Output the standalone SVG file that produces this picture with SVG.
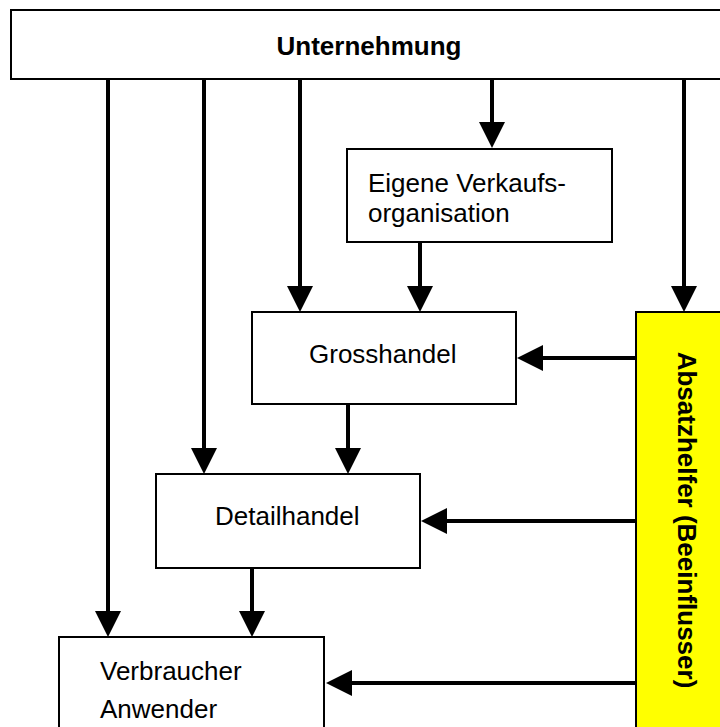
<svg xmlns="http://www.w3.org/2000/svg" width="720" height="727" viewBox="0 0 720 727">
  <style>
    .box { fill: #ffffff; stroke: #000000; stroke-width: 2; }
    .helper { fill: #ffff00; stroke: #000000; stroke-width: 2; }
    .label { font-family: "Liberation Sans", Arial, sans-serif; font-size: 26px; fill: #000000; }
    .bold { font-weight: bold; }
    .link { fill: none; stroke: #000000; stroke-width: 4; marker-end: url(#head); }
  </style>
  <defs>
    <marker id="head" markerUnits="userSpaceOnUse" markerWidth="28" markerHeight="28" viewBox="0 -14 26 28" refX="1" refY="0" orient="auto">
      <path d="M0,-13 L26,0 L0,13 Z" fill="#000000"/>
    </marker>
  </defs>
  <rect width="720" height="727" fill="#ffffff"/>

  <!-- connectors: each path stops at the base of its arrowhead -->
  <g id="connectors">
    <path class="link" d="M108,79 V612"/>
    <path class="link" d="M204,79 V449"/>
    <path class="link" d="M300,79 V287"/>
    <path class="link" d="M492,79 V123"/>
    <path class="link" d="M684,79 V287"/>
    <path class="link" d="M420,242 V287"/>
    <path class="link" d="M348,404 V449"/>
    <path class="link" d="M252,568 V612"/>
    <path class="link" d="M636,358 H542"/>
    <path class="link" d="M636,521 H446"/>
    <path class="link" d="M636,683 H351"/>
  </g>

  <g id="unternehmung">
    <rect class="box" x="11" y="10" width="720" height="69"/>
    <text class="label bold" x="369" y="55" font-size="27" text-anchor="middle">Unternehmung</text>
  </g>

  <g id="verkaufsorganisation">
    <rect class="box" x="347" y="149" width="265" height="93"/>
    <text class="label" x="368" y="192">Eigene Verkaufs-</text>
    <text class="label" x="368" y="222">organisation</text>
  </g>

  <g id="grosshandel">
    <rect class="box" x="252" y="312" width="264" height="92"/>
    <text class="label" x="309" y="363">Grosshandel</text>
  </g>

  <g id="detailhandel">
    <rect class="box" x="156" y="474" width="264" height="94"/>
    <text class="label" x="215" y="525">Detailhandel</text>
  </g>

  <g id="verbraucher">
    <rect class="box" x="59" y="637" width="265" height="110"/>
    <text class="label" x="100" y="680">Verbraucher</text>
    <text class="label" x="100" y="718">Anwender</text>
  </g>

  <g id="absatzhelfer">
    <rect class="helper" x="636" y="312" width="100" height="430"/>
    <text class="label bold" transform="translate(678,520) rotate(90)" font-size="26.5" text-anchor="middle">Absatzhelfer (Beeinflusser)</text>
  </g>
</svg>
